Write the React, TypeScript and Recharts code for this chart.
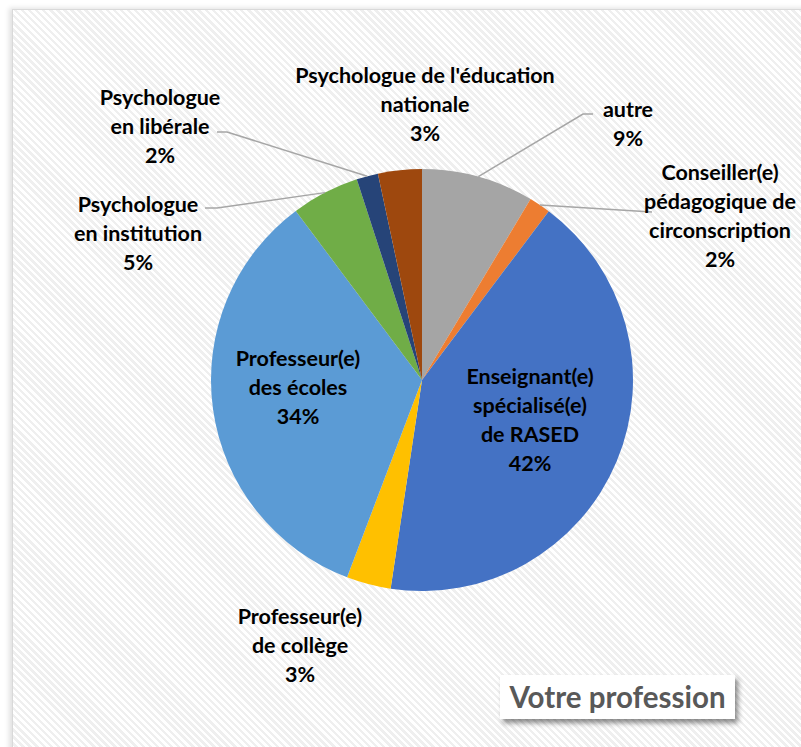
import { PieChart, Pie, Cell } from "recharts";

const categories = [
  "autre",
  "Conseiller(e)\npédagogique de\ncirconscription",
  "Enseignant(e)\nspécialisé(e)\nde RASED",
  "Professeur(e)\nde collège",
  "Professeur(e)\ndes écoles",
  "Psychologue\nen institution",
  "Psychologue\nen libérale",
  "Psychologue de l'éducation\nnationale",
];

const shares = [8.6, 1.65, 42.1, 3.4, 34.0, 5.2, 1.65, 3.35];

const colors = [
  "#A5A5A5",
  "#ED7D31",
  "#4472C4",
  "#FFC000",
  "#5B9BD5",
  "#70AD47",
  "#264478",
  "#9E480E",
];

// where each label sits (center of first line) and the elbow of its leader line
const labelLayout: { x: number; y: number; line?: number[][] }[] = [
  { x: 628, y: 109, line: [[583, 114], [593, 114]] },
  { x: 720, y: 172, line: [[652, 212]] },
  { x: 530, y: 376 },
  { x: 300, y: 616 },
  { x: 298, y: 358 },
  { x: 138, y: 204, line: [[217, 208], [205, 208]] },
  { x: 160, y: 97, line: [[227, 132], [217, 132]] },
  { x: 425, y: 75 },
];

const data = categories.map((name, i) => ({ name, value: shares[i] }));

const RAD = Math.PI / 180;
const LINE_H = 29;

function renderLabel(props: any) {
  const { cx, cy, midAngle, outerRadius, index, value } = props;
  const lay = labelLayout[index];
  const lines = [...categories[index].split("\n"), Math.round(value) + "%"];
  let path = null;
  if (lay.line) {
    const sx = cx + outerRadius * Math.cos(-midAngle * RAD);
    const sy = cy + outerRadius * Math.sin(-midAngle * RAD);
    const pts = [[sx, sy], ...lay.line].map((p) => p.join(",")).join(" ");
    path = <polyline points={pts} fill="none" stroke="#A6A6A6" strokeWidth={1.5} />;
  }
  return (
    <g key={"lbl" + index}>
      {path}
      {lines.map((t, j) => (
        <text
          key={j}
          x={lay.x}
          y={lay.y + j * LINE_H}
          textAnchor="middle"
          dominantBaseline="central"
          fill="#000"
          fontSize={21.5}
          fontWeight="bold"
          fontFamily="Lato, 'Open Sans', sans-serif"
        >
          {t}
        </text>
      ))}
    </g>
  );
}

export default function App() {
  return (
    <div style={{ position: "absolute", left: 0, top: 0, width: 801, height: 747, overflow: "hidden", background: "#fff" }}>
      <div
        style={{
          position: "absolute",
          left: 12,
          top: 9,
          width: 820,
          height: 760,
          border: "1.5px solid #D9D9D9",
          boxShadow: "-3px -1px 5px rgba(0,0,0,0.12)",
          background:
            "repeating-linear-gradient(45deg, #ffffff 0px, #ffffff 2.5px, #EFEFEF 2.5px, #EFEFEF 5px)",
        }}
      />
      <div style={{ position: "absolute", left: 0, top: 0 }}>
        <PieChart width={801} height={747} margin={{ top: 0, right: 0, bottom: 0, left: 0 }}>
          <Pie
            data={data}
            dataKey="value"
            nameKey="name"
            cx={422}
            cy={380}
            outerRadius={211}
            startAngle={90}
            endAngle={-270}
            stroke="none"
            label={renderLabel}
            labelLine={false}
            isAnimationActive={false}
          >
            {data.map((d, i) => (
              <Cell key={d.name} fill={colors[i]} />
            ))}
          </Pie>
        </PieChart>
      </div>
      <div
        style={{
          position: "absolute",
          left: 500,
          top: 675,
          width: 235,
          height: 44,
          background: "#fff",
          boxShadow: "3px 4px 5px rgba(0,0,0,0.45)",
          color: "#595959",
          fontFamily: "Lato, 'Open Sans', sans-serif",
          fontWeight: "bold",
          fontSize: 29.5,
          lineHeight: "44px",
          textAlign: "center",
        }}
      >
        Votre profession
      </div>
    </div>
  );
}
